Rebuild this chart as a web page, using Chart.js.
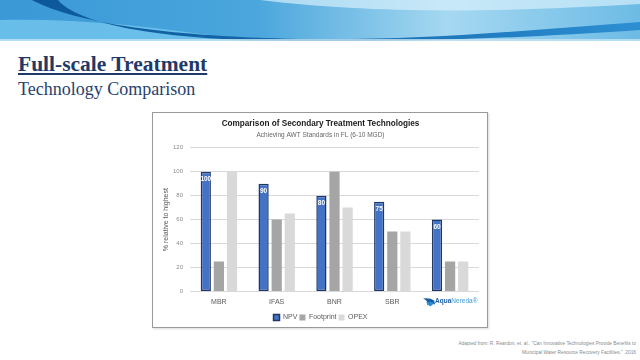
<!DOCTYPE html>
<html>
<head>
<meta charset="utf-8">
<script src="https://cdn.jsdelivr.net/npm/chart.js@4"></script>
<style>
  body { margin: 0; width: 640px; height: 360px; background: #fff; position: relative; overflow: hidden; font-family: "Liberation Sans", sans-serif; }
  #banner { position: absolute; left: 0; top: 0; width: 640px; height: 41px; }
  .h1 { position: absolute; left: 18px; top: 52px; font-family: "Liberation Serif", "DejaVu Serif", serif; font-weight: bold; font-size: 21.5px; color: #1f3a68; text-decoration: underline; text-underline-offset: 2px; }
  .h2 { position: absolute; left: 18px; top: 79px; font-family: "Liberation Serif", "DejaVu Serif", serif; font-size: 18px; color: #27426e; }
  #box { position: absolute; left: 152px; top: 112px; width: 334px; height: 214px; border: 1px solid #9a9a9a; box-shadow: 1px 1px 2px rgba(0,0,0,0.15); background: #fff; }
  #wrap { position: absolute; left: 0; top: 0; width: 334px; height: 214px; }
  .cite { position: absolute; right: 4px; top: 339px; font-size: 4.8px; line-height: 9px; color: #8a8a8a; text-align: right; }
</style>
</head>
<body>
<svg id="banner" viewBox="0 0 640 41" preserveAspectRatio="none">
  <defs>
    <linearGradient id="bg" x1="0" y1="0" x2="1" y2="0">
      <stop offset="0" stop-color="#3a98d6"/>
      <stop offset="0.4" stop-color="#4aa6dc"/>
      <stop offset="0.7" stop-color="#a6d8f1"/>
      <stop offset="1" stop-color="#6cbbe5"/>
    </linearGradient>
    <linearGradient id="band" x1="0" y1="0" x2="1" y2="0">
      <stop offset="0" stop-color="#0c5898"/>
      <stop offset="0.5" stop-color="#176bb0"/>
      <stop offset="1" stop-color="#2d8fd2"/>
    </linearGradient>
  </defs>
  <rect x="0" y="0" width="640" height="41" fill="url(#bg)"/>
  <path d="M0,20 C70,18 150,26 230,38 L240,41 L0,41 Z" fill="#70c4ec" opacity="0.85"/>
  <path d="M32,0 C70,20 150,36 300,39 C420,41 530,30 640,22 L640,30 C520,38 420,42 300,41 C170,41 80,26 58,0 Z" fill="url(#band)"/>
  <path d="M260,0 C360,12 470,14 640,4 L640,0 Z" fill="#d6effb" opacity="0.7"/>
  <rect x="0" y="39" width="640" height="2" fill="#c4e4f5" opacity="0.8"/>
</svg>
<div class="h1">Full-scale Treatment</div>
<div class="h2">Technology Comparison</div>
<div id="box"><div id="wrap"><canvas id="c"></canvas></div></div>
<div class="cite">Adapted from: R. Reardon, et. al., "Can Innovative Technologies Provide Benefits to<br>Municipal Water Resource Recovery Facilities."&nbsp; 2016</div>
<script>
const categories = ["MBR", "IFAS", "BNR", "SBR", "AquaNereda®"];
const npv = [100, 90, 80, 75, 60];
const footprint = [25, 60, 100, 50, 25];
const opex = [100, 65, 70, 50, 25];
const yTicks = [0, 20, 40, 60, 80, 100, 120];

// white value labels inside top of the NPV bars
const npvLabels = {
  id: "npvLabels",
  afterDatasetsDraw(chart) {
    const ctx = chart.ctx;
    const meta = chart.getDatasetMeta(0);
    ctx.save();
    ctx.fillStyle = "#ffffff";
    ctx.font = "bold 6.5px 'Liberation Sans', sans-serif";
    ctx.textAlign = "center";
    ctx.textBaseline = "middle";
    meta.data.forEach((bar, i) => {
      ctx.fillText(String(npv[i]), bar.x, bar.y + 8);
    });
    ctx.restore();
  }
};

// legend sits a bit lower / tighter than the default
const tightLegend = {
  id: "tightLegend",
  beforeInit(chart) {
    const fit = chart.legend.fit;
    chart.legend.fit = function () {
      fit.call(this);
      this.height -= 4;
    };
  }
};

// last category is shown as the AquaNereda logo
const logoLabel = {
  id: "logoLabel",
  afterDraw(chart) {
    const ctx = chart.ctx;
    const x = chart.scales.x.getPixelForTick(4);
    const y = chart.scales.x.top + 10;
    ctx.save();
    // swoosh icon
    ctx.fillStyle = "#1a5fa6";
    ctx.beginPath();
    ctx.moveTo(x - 27, y - 3);
    ctx.quadraticCurveTo(x - 20, y - 4, x - 16, y - 1);
    ctx.lineTo(x - 15, y + 3);
    ctx.quadraticCurveTo(x - 19, y + 1, x - 23, y + 4);
    ctx.quadraticCurveTo(x - 21, y, x - 27, y - 3);
    ctx.fill();
    ctx.fillStyle = "#2a8bd0";
    ctx.beginPath();
    ctx.moveTo(x - 24, y + 1);
    ctx.quadraticCurveTo(x - 19, y - 1, x - 16, y + 2);
    ctx.lineTo(x - 20, y + 5);
    ctx.closePath();
    ctx.fill();
    // text
    ctx.textBaseline = "middle";
    ctx.textAlign = "left";
    ctx.font = "bold 6.5px 'Liberation Sans', sans-serif";
    ctx.fillStyle = "#1a5fa6";
    const label = categories[4];
    const first = label.slice(0, 4);
    const rest = label.slice(4);
    ctx.fillText(first, x - 15, y);
    const w = ctx.measureText(first).width;
    ctx.font = "6.5px 'Liberation Sans', sans-serif";
    ctx.fillStyle = "#3c9ad8";
    ctx.fillText(rest, x - 15 + w, y);
    ctx.restore();
  }
};

new Chart(document.getElementById("c"), {
  type: "bar",
  data: {
    labels: categories,
    datasets: [
      {
        label: "NPV",
        data: npv,
        backgroundColor: "#4472c4",
        borderColor: "#1f3864",
        borderWidth: 1.5,
        borderSkipped: false
      },
      {
        label: "Footprint",
        data: footprint,
        backgroundColor: "#a5a5a5",
        borderWidth: 0
      },
      {
        label: "OPEX",
        data: opex,
        backgroundColor: "#d9d9d9",
        borderWidth: 0
      }
    ]
  },
  options: {
    responsive: true,
    maintainAspectRatio: false,
    animation: false,
    layout: { padding: { left: 9, right: 8, top: 2, bottom: 0 } },
    datasets: {
      bar: { categoryPercentage: 0.68, barPercentage: 0.78 }
    },
    plugins: {
      title: {
        display: true,
        text: "Comparison of Secondary Treatment Technologies",
        color: "#1a1a1a",
        font: { size: 8.2, weight: "bold", family: "'Liberation Sans', sans-serif" },
        padding: { top: 4, bottom: 2 }
      },
      subtitle: {
        display: true,
        text: "Achieving AWT Standards in FL (6-10 MGD)",
        color: "#666",
        font: { size: 6.5, family: "'Liberation Sans', sans-serif" },
        padding: { bottom: 9 }
      },
      legend: {
        position: "bottom",
        labels: {
          color: "#595959",
          boxWidth: 6,
          boxHeight: 6,
          padding: 2,
          font: { size: 7, family: "'Liberation Sans', sans-serif" }
        }
      },
      tooltip: { enabled: false }
    },
    scales: {
      x: {
        grid: { display: false, drawTicks: false },
        border: { display: false },
        ticks: {
          color: "#595959",
          padding: 6,
          font: { size: 7, family: "'Liberation Sans', sans-serif" },
          callback: (v, i) => (i === 4 ? "" : categories[i])
        }
      },
      y: {
        min: 0,
        max: 120,
        afterBuildTicks: axis => { axis.ticks = yTicks.map(v => ({ value: v })); },
        afterFit: axis => { axis.width = 28; },
        grid: { color: "#d9d9d9", drawTicks: false },
        border: { display: false },
        ticks: {
          color: "#8c8c8c",
          padding: 7,
          font: { size: 6, family: "'Liberation Sans', sans-serif" }
        },
        title: {
          display: true,
          text: "% relative to highest",
          color: "#595959",
          padding: { top: 0, bottom: 0 },
          font: { size: 7, family: "'Liberation Sans', sans-serif" }
        }
      }
    }
  },
  plugins: [npvLabels, tightLegend, logoLabel]
});
</script>
</body>
</html>
